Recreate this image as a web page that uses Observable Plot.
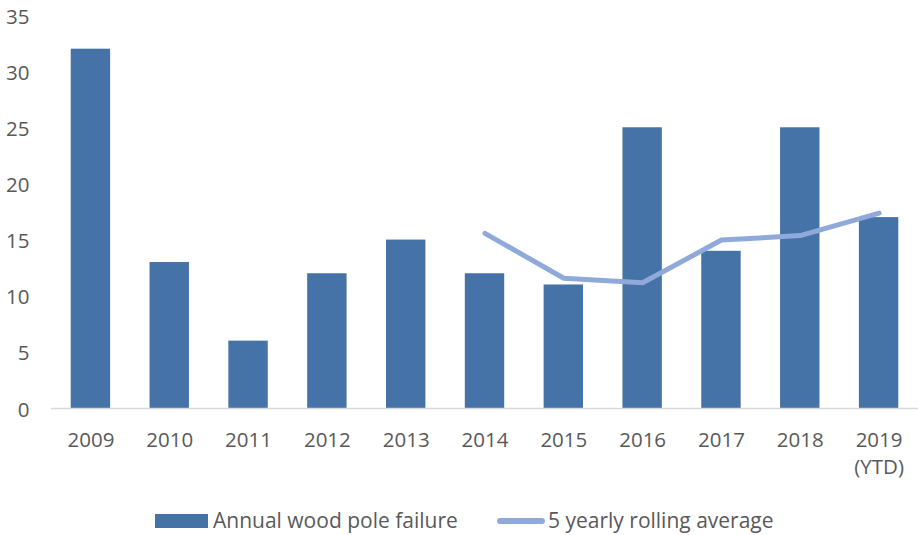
<!DOCTYPE html>
<html><head><meta charset="utf-8">
<script src="https://cdn.jsdelivr.net/npm/d3@7"></script>
<script src="https://cdn.jsdelivr.net/npm/@observablehq/plot@0.6"></script>
<style>
body{margin:0;background:#fff;font-family:"Open Sans",sans-serif;}
#wrap{position:relative;width:918px;height:535px;}
#legend{position:absolute;left:0;top:490px;width:918px;height:45px;font-size:21px;color:#595959;}
.sw{position:absolute;}
.lt{position:absolute;top:16px;white-space:nowrap;line-height:28px;}
svg{overflow:visible;}
</style></head>
<body><div id="wrap"><div id="chart"></div>
<div id="legend">
<div class="sw" style="left:155px;top:24px;width:53px;height:14px;background:#4572A7"></div>
<div class="lt" style="left:213px;top:16px;">Annual wood pole failure</div>
<div class="sw" style="left:497px;top:28px;width:48px;height:6px;border-radius:3px;background:#8FAADA"></div>
<div class="lt" style="left:548px;top:16px;">5 yearly rolling average</div>
</div></div>
<script>
const years = ["2009","2010","2011","2012","2013","2014","2015","2016","2017","2018","2019\n(YTD)"];
const failures = [32,13,6,12,15,12,11,25,14,25,17];
const avgYears = ["2014","2015","2016","2017","2018","2019\n(YTD)"];
const rollingAvg = [15.6,11.6,11.2,15.0,15.4,17.4];
const yTicks = [0,5,10,15,20,25,30,35];

const bars = years.map((y,i)=>({year:y,value:failures[i]}));
const line = avgYears.map((y,i)=>({year:y,value:rollingAvg[i]}));

const chart = Plot.plot({
  width:918, height:490,
  marginLeft:51, marginRight:0, marginTop:15, marginBottom:82,
  style:{fontFamily:"Open Sans, sans-serif", fontSize:"20.5px", color:"#595959", background:"#fff"},
  x:{domain:years, paddingInner:0.5, paddingOuter:0.25, round:false, label:null},
  y:{domain:[0,35], label:null},
  marks:[
    Plot.axisY({ticks:yTicks, tickSize:0, tickPadding:22, dy:1.5, label:null, fontSize:20.5}),
    Plot.axisX({tickSize:0, tickPadding:20, label:null, fontSize:20.5, lineHeight:1.3}),
    Plot.barY(bars,{x:"year", y:"value", fill:"#4572A7"}),
    Plot.ruleY([0],{stroke:"#D9D9D9", strokeWidth:1.3}),
    Plot.line(line,{x:"year", y:"value", stroke:"#8FAADA", strokeWidth:5, strokeLinecap:"round", strokeLinejoin:"round"})
  ]
});
document.getElementById("chart").appendChild(chart);
</script></body></html>
